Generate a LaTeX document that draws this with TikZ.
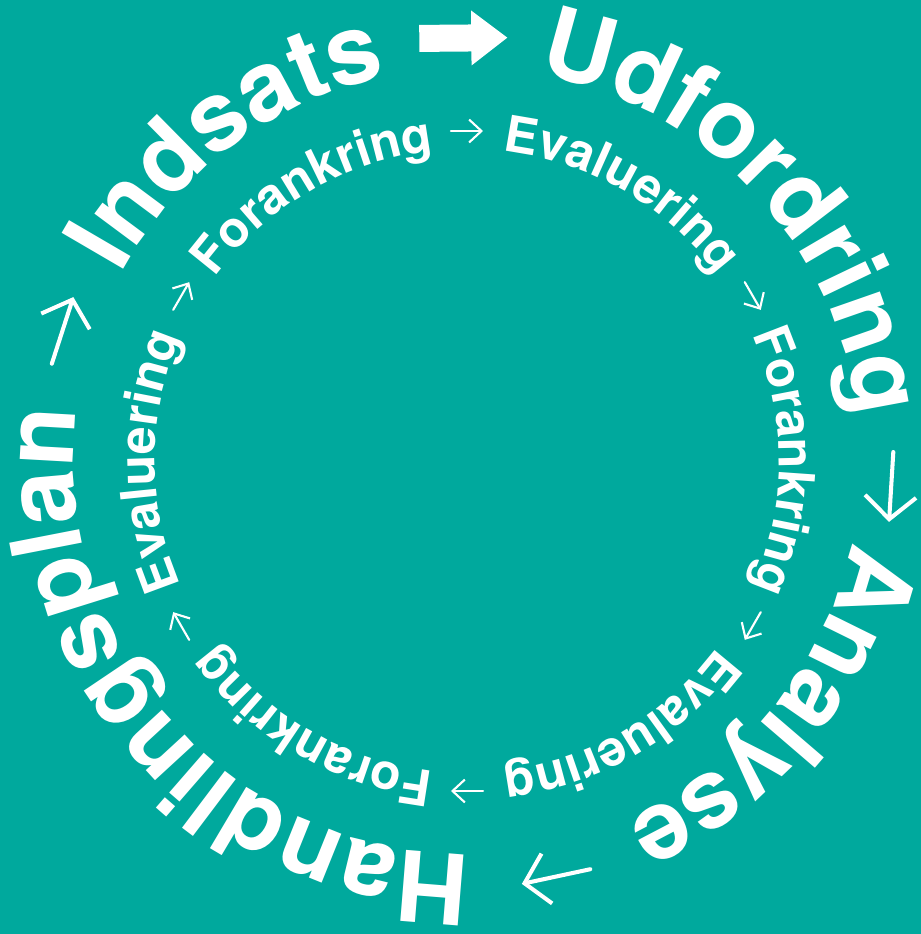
\documentclass[tikz,border=0pt]{standalone}
\usepackage{fontspec}
\newfontfamily\heros{TeX Gyre Heros}
\usetikzlibrary{decorations.text,arrows.meta}
\definecolor{petrol}{HTML}{00A99D}
\newcommand\bigfont{\heros\bfseries\fontsize{27.8}{30}\selectfont}
\newcommand\smallfont{\heros\bfseries\fontsize{14.2}{16}\selectfont}
\begin{document}
\begin{tikzpicture}[line cap=round, line join=round,
	outerword/.style={decorate, decoration={text along path, text={|\bigfont|#1}, text align=center, text color=white}},
	innerword/.style={decorate, decoration={text along path, text={|\smallfont|#1}, text align=center, text color=white}},
	outarrow/.style={white, line width=1.15pt, -{Straight Barb[length=6.5pt,width=14.5pt]}},
	inarrow/.style={white, line width=0.6pt, -{Straight Barb[length=3.5pt,width=6.5pt]}}]
			\fill[petrol] (-4.67,-4.73) rectangle (4.54,4.61);
			\useasboundingbox (-4.67,-4.73) rectangle (4.54,4.61);
			\path[outerword=Indsats] (206.7:3.93) arc[start angle=206.7, end angle=46.7, radius=3.93];
			\path[outerword=Udfordring] (123:3.93) arc[start angle=123, end angle=-37, radius=3.93];
			\path[outerword=Analyse] (41:3.93) arc[start angle=41, end angle=-119, radius=3.93];
			\path[outerword=Handlingsplan] (-58.5:3.93) arc[start angle=-58.5, end angle=-218.5, radius=3.93];
			\begin{scope}[shift={(90.5:4.23)}, rotate=0.5]
			\fill[white] (-0.44,-0.135) -- (0.08,-0.135) -- (0.08,-0.275) -- (0.44,0)
			-- (0.08,0.275) -- (0.08,0.135) -- (-0.44,0.135) -- cycle;
			\end{scope}
			\foreach \a [count=\i] in {-3.5,-77.9,162.1} {
				\path (\a:4.25) ++(\a+90:0.35) coordinate (os\i) ++(\a-90:0.70) coordinate (oe\i);
				\draw[outarrow] (os\i) -- (oe\i);
			}
			\foreach \a/\w in {120/Forankring, 60/Evaluering, 0/Forankring, -60/Evaluering, -120/Forankring, 180/Evaluering}
				\path[innerword/.expanded=\w] (\a+60:3.12) arc[start angle=\a+60, end angle=\a-60, radius=3.12];
			\foreach \a [count=\i] in {90,30,-30,-90,-150,150} {
				\path (\a:3.30) ++(\a+90:0.16) coordinate (is\i) ++(\a-90:0.32) coordinate (ie\i);
				\draw[inarrow] (is\i) -- (ie\i);
			}
\end{tikzpicture}
\end{document}
